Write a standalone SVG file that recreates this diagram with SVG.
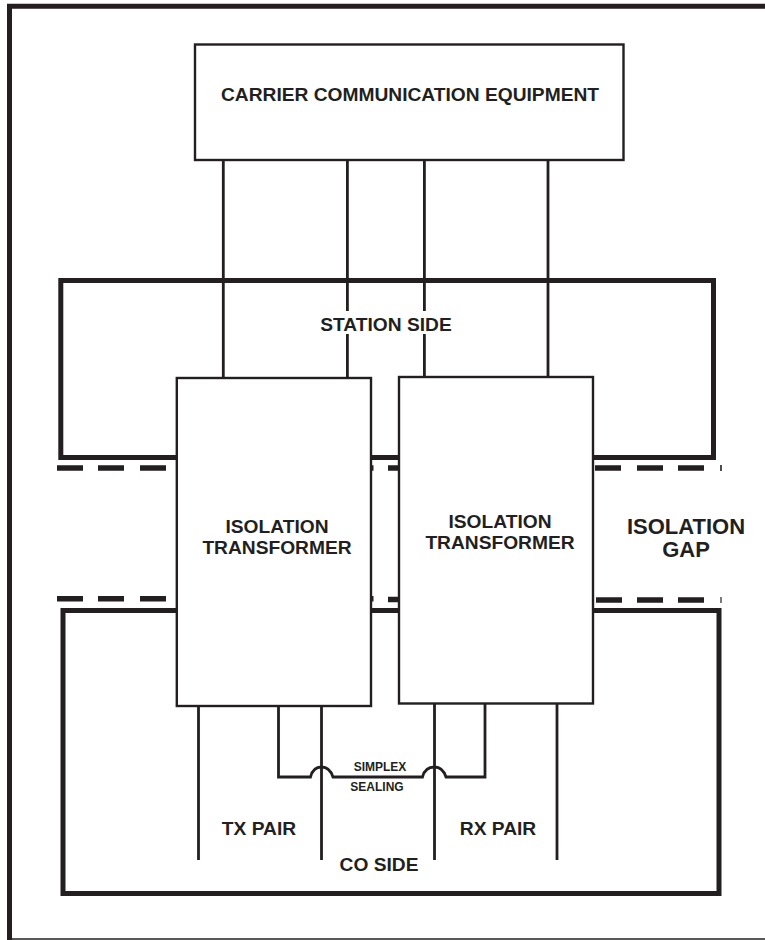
<svg xmlns="http://www.w3.org/2000/svg" width="765" height="940" viewBox="0 0 765 940">
<style>
.b{fill:#fff;stroke:#231f20;stroke-width:2.4}
.h{fill:none;stroke:#231f20;stroke-width:5}
.c{fill:none;stroke:#231f20;stroke-width:2.8}
.d{fill:none;stroke:#231f20;stroke-width:5.5}
text{font-family:"Liberation Sans",Arial,sans-serif;font-weight:700;fill:#231f20;text-anchor:middle}
.t{font-size:19.2px}
.s{font-size:12px}
.g{font-size:22px}
</style>
<rect width="765" height="940" fill="#fff"/>
<g id="frame">
<path class="h" d="M765 6.3H9.5V940"/>
<path d="M9 939H765" fill="none" stroke="#231f20" stroke-width="1.6"/>
</g>
<g id="station-side">
<rect class="h" x="60.8" y="280.5" width="652.7" height="177"/>
<text class="t" x="386" y="331">STATION SIDE</text>
</g>
<g id="co-side">
<rect class="h" x="63" y="610.5" width="656" height="283"/>
<text class="t" x="379" y="871">CO SIDE</text>
</g>
<g id="isolation-gap">
<path class="d" d="M57 468H83M98 468H124M140 468H166M371 468H373.500M388 468H399M595 468H621M637 468H663M678 468H704"/>
<path d="M721 465V471" fill="none" stroke="#231f20" stroke-width="1.600"/>
<path class="d" d="M57 598.700H83M98 598.700H124M140 598.700H166M371 598.700H373.500M388 599.500H399M596 600H622M637 600H663M678 600H704"/>
<path d="M721 597V603" fill="none" stroke="#231f20" stroke-width="1.200"/>
<text class="g" x="686" y="534">ISOLATION</text>
<text class="g" x="686" y="557">GAP</text>
</g>
<g id="connectors">
<path class="c" d="M223.300 160V378M347.400 160V311M347.400 334V378M424.400 160V311M424.400 334V377M548 160V377"/>
<path class="c" d="M198.500 706V860M321.500 706V860M434.500 703V860M557 703V860"/>
<path class="c" d="M278.500 706V777H310.500C312 771 316 767 321.500 767S331 771 333 777H422.500C424 771 428 767 434.500 767S444 771 446 777H485V703"/>
</g>
<g id="carrier-equipment">
<rect class="b" x="195" y="44.500" width="428.500" height="115.500"/>
<text class="t" x="410" y="101">CARRIER COMMUNICATION EQUIPMENT</text>
</g>
<g id="transformer-tx">
<rect class="b" x="176.800" y="378" width="194.200" height="328"/>
<text class="t" x="277" y="533">ISOLATION</text>
<text class="t" x="277" y="554">TRANSFORMER</text>
</g>
<g id="transformer-rx">
<rect class="b" x="399" y="377" width="194" height="326.500"/>
<text class="t" x="500" y="528">ISOLATION</text>
<text class="t" x="500" y="549">TRANSFORMER</text>
</g>
<g id="labels">
<text class="s" x="380" y="771">SIMPLEX</text>
<text class="s" x="377" y="791">SEALING</text>
<text class="t" x="259" y="835">TX PAIR</text>
<text class="t" x="498" y="835">RX PAIR</text>
</g>
</svg>
